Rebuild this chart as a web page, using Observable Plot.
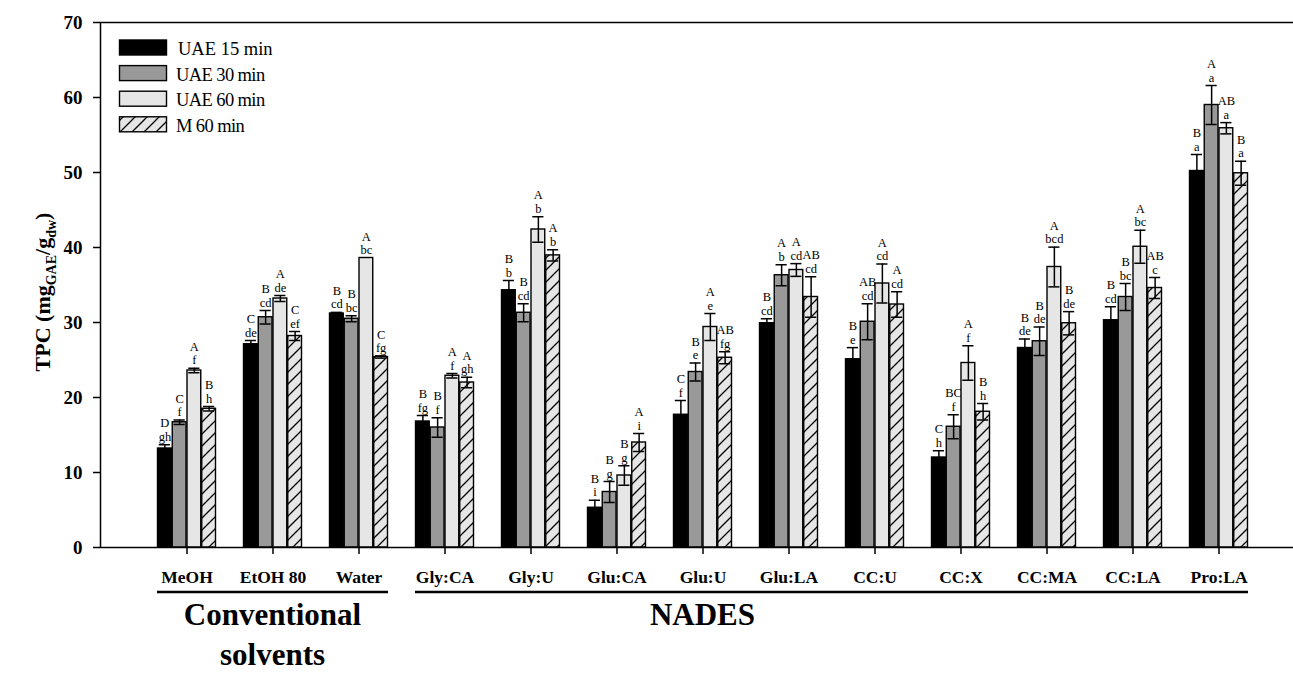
<!DOCTYPE html>
<html>
<head>
<meta charset="utf-8">
<script src="https://cdn.jsdelivr.net/npm/d3@7"></script>
<script src="https://cdn.jsdelivr.net/npm/@observablehq/plot@0.6"></script>
<style>
  html, body { margin: 0; padding: 0; background: #fff; overflow: hidden; }
  #chart svg { display: block; overflow: hidden; }
  g[aria-label="y-axis tick label"] text, g[aria-label="x-axis tick label"] text { font-weight: bold; }
</style>
</head>
<body>
<div id="chart"></div>
<script>
// ---------- DATA ----------
const groups = ["MeOH", "EtOH 80", "Water", "Gly:CA", "Gly:U", "Glu:CA", "Glu:U", "Glu:LA", "CC:U", "CC:X", "CC:MA", "CC:LA", "Pro:LA"];
const seriesNames = ["UAE 15 min", "UAE 30 min", "UAE 60 min", "M 60 min"];
const yTicks = [0, 10, 20, 30, 40, 50, 60, 70];

const uae15    = [13.2, 27.1, 31.2, 16.8, 34.3, 5.3, 17.7, 29.9, 25.1, 12.0, 26.6, 30.3, 50.2];
const uae15Err = [0.5, 0.5, 0.15, 0.8, 1.3, 1.0, 1.9, 0.6, 1.55, 0.9, 1.2, 1.8, 2.2];
const uae30    = [16.7, 30.7, 30.5, 16.0, 31.3, 7.4, 23.4, 36.3, 30.1, 16.1, 27.5, 33.4, 59.0];
const uae30Err = [0.3, 0.9, 0.4, 1.3, 1.2, 1.4, 1.2, 1.4, 2.4, 1.6, 1.9, 1.8, 2.6];
const uae60    = [23.6, 33.2, 38.6, 22.9, 42.4, 9.6, 29.4, 37.0, 35.2, 24.6, 37.4, 40.1, 55.9];
const uae60Err = [0.3, 0.4, 0, 0.3, 1.7, 1.3, 1.8, 0.85, 2.6, 2.3, 2.65, 2.2, 0.75];
const m60      = [18.5, 28.2, 25.4, 22.0, 38.95, 14.0, 25.3, 33.4, 32.4, 18.1, 29.9, 34.6, 49.9];
const m60Err   = [0.3, 0.6, 0.15, 0.7, 0.75, 1.2, 0.8, 2.7, 1.7, 1.1, 1.55, 1.4, 1.6];

const upper15 = ["D", "C", "B", "B", "B", "B", "C", "B", "B", "C", "B", "B", "B"];
const lower15 = ["gh", "de", "cd", "fg", "b", "i", "f", "cd", "e", "h", "de", "cd", "a"];
const upper30 = ["C", "B", "B", "B", "B", "B", "B", "A", "AB", "BC", "B", "B", "A"];
const lower30 = ["f", "cd", "bc", "f", "cd", "g", "e", "b", "cd", "f", "de", "bc", "a"];
const upper60 = ["A", "A", "A", "A", "A", "B", "A", "A", "A", "A", "A", "A", "AB"];
const lower60 = ["f", "de", "bc", "f", "b", "g", "e", "cd", "cd", "f", "bcd", "bc", "a"];
const upperM  = ["B", "C", "C", "A", "A", "A", "AB", "AB", "A", "B", "B", "AB", "B"];
const lowerM  = ["h", "ef", "fg", "gh", "b", "i", "fg", "cd", "cd", "h", "de", "c", "a"];

const groupTitles = [
  {lines: ["Conventional", "solvents"], first: "MeOH", last: "Water", center: "EtOH 80"},
  {lines: ["NADES"], first: "Gly:CA", last: "Pro:LA", center: "Glu:U"}
];
const yLabelParts = [["TPC (mg", false], ["GAE", true], ["/g", false], ["dw", true], [")", false]];

// ---------- BUILD ----------
const fills = ["#000000", "#999999", "#e6e6e6", "url(#hatch)"];
const series = [
  {values: uae15, errors: uae15Err, upper: upper15, lower: lower15},
  {values: uae30, errors: uae30Err, upper: upper30, lower: lower30},
  {values: uae60, errors: uae60Err, upper: upper60, lower: lower60},
  {values: m60, errors: m60Err, upper: upperM, lower: lowerM}
];
const rows = series.flatMap((s, i) => groups.map((g, j) => ({
  group: g, si: i, value: s.values[j], err: s.errors[j], label: s.upper[j] + "\n" + s.lower[j]
})));

const sub = 14.75; // width of each sub-bar in px within a group band
const font = "'Liberation Serif', 'Times New Roman', serif";

const marks = [
  Plot.axisY({ticks: yTicks, tickSize: 7, tickPadding: 11, fontSize: 19, fontWeight: "bold", strokeWidth: 1.5, label: null}),
  Plot.axisX({tickSize: 7, tickPadding: 16, fontSize: 17.5, fontWeight: "bold", strokeWidth: 1.5, label: null})
];
series.forEach((s, i) => {
  const d = rows.filter(r => r.si === i);
  const de = d.filter(r => r.err > 0);
  const dx = (i - 1.5) * sub;
  marks.push(Plot.barY(d, {x: "group", y: "value", fill: fills[i], stroke: "#000", strokeWidth: 1.4,
    insetLeft: i * sub + 0.5, insetRight: (3 - i) * sub + 0.5}));
  marks.push(Plot.ruleX(de, {x: "group", y1: r => r.value - r.err, y2: r => r.value + r.err, dx, stroke: "#000", strokeWidth: 1.5}));
  marks.push(Plot.tickY(de, {x: "group", y: r => r.value + r.err, insetLeft: i * sub + 1.8, insetRight: (3 - i) * sub + 1.8, stroke: "#000", strokeWidth: 1.5}));
  marks.push(Plot.tickY(de, {x: "group", y: r => r.value - r.err, insetLeft: i * sub + 1.8, insetRight: (3 - i) * sub + 1.8, stroke: "#000", strokeWidth: 1.5}));
  marks.push(Plot.text(d, {x: "group", y: r => r.value + r.err, text: "label", dx, dy: -4,
    lineAnchor: "bottom", lineHeight: 1.07, fontSize: 12.5, fill: "#000"}));
});
marks.push(Plot.frame({stroke: "#000", strokeWidth: 1.5}));

const plot = Plot.plot({
  width: 1293, height: 673,
  marginLeft: 100, marginRight: -3, marginTop: 22, marginBottom: 126,
  style: {fontFamily: font, background: "#fff", color: "#000", overflow: "hidden"},
  x: {domain: groups, range: [142.96, 1262.04], paddingInner: 0.315, paddingOuter: 0.1575, label: null},
  y: {domain: [0, 70], label: null},
  marks
});
document.getElementById("chart").appendChild(plot);

// ---------- hatch pattern, annotations, legend ----------
const svg = d3.select(plot);
const defs = svg.insert("defs", ":first-child");
const pat = defs.append("pattern").attr("id", "hatch").attr("patternUnits", "userSpaceOnUse")
  .attr("width", 12).attr("height", 12);
pat.append("rect").attr("width", 12).attr("height", 12).attr("fill", "#e6e6e6");
pat.append("path").attr("d", "M-1,13 L13,-1 M-4,4 L4,-4 M8,16 L16,8").attr("stroke", "#000").attr("stroke-width", 1.3);

const xs = plot.scale("x");
const bw = xs.bandwidth;
const ann = svg.append("g").attr("font-family", font).attr("fill", "#000");
groupTitles.forEach(gt => {
  const x1 = xs.apply(gt.first), x2 = xs.apply(gt.last) + bw;
  ann.append("line").attr("x1", x1).attr("x2", x2).attr("y1", 592).attr("y2", 592)
    .attr("stroke", "#000").attr("stroke-width", 2.4);
  const cx = xs.apply(gt.center) + bw / 2;
  gt.lines.forEach((ln, k) => {
    ann.append("text").attr("x", cx).attr("y", 625 + k * 40).attr("text-anchor", "middle")
      .attr("font-size", 31).attr("font-weight", "bold").text(ln);
  });
});

// y label with subscripts
const yl = ann.append("text").attr("transform", "translate(50,292) rotate(-90)")
  .attr("text-anchor", "middle").attr("font-size", 22).attr("font-weight", "bold");
let shifted = false;
yLabelParts.forEach(([t, isSub]) => {
  const ts = yl.append("tspan").text(t);
  if (isSub && !shifted) { ts.attr("dy", 6).attr("font-size", 14); shifted = true; }
  else if (isSub) { ts.attr("font-size", 14); }
  else if (!isSub && shifted) { ts.attr("dy", -6); shifted = false; }
});

// legend
const leg = svg.append("g").attr("font-family", font).attr("text-anchor", "start");
seriesNames.forEach((name, i) => {
  const top = 40 + i * 25.6;
  leg.append("rect").attr("x", 119.5).attr("y", top).attr("width", 47).attr("height", 15)
    .attr("fill", fills[i]).attr("stroke", "#000").attr("stroke-width", 1.4);
  leg.append("text").attr("x", i === 0 ? 178 : 176).attr("y", top + 15).attr("font-size", 18.5)
    .attr("text-anchor", "start")
    .attr("letter-spacing", i === 0 ? 0 : -0.6).attr("fill", "#000").text(name);
});
</script>
</body>
</html>
